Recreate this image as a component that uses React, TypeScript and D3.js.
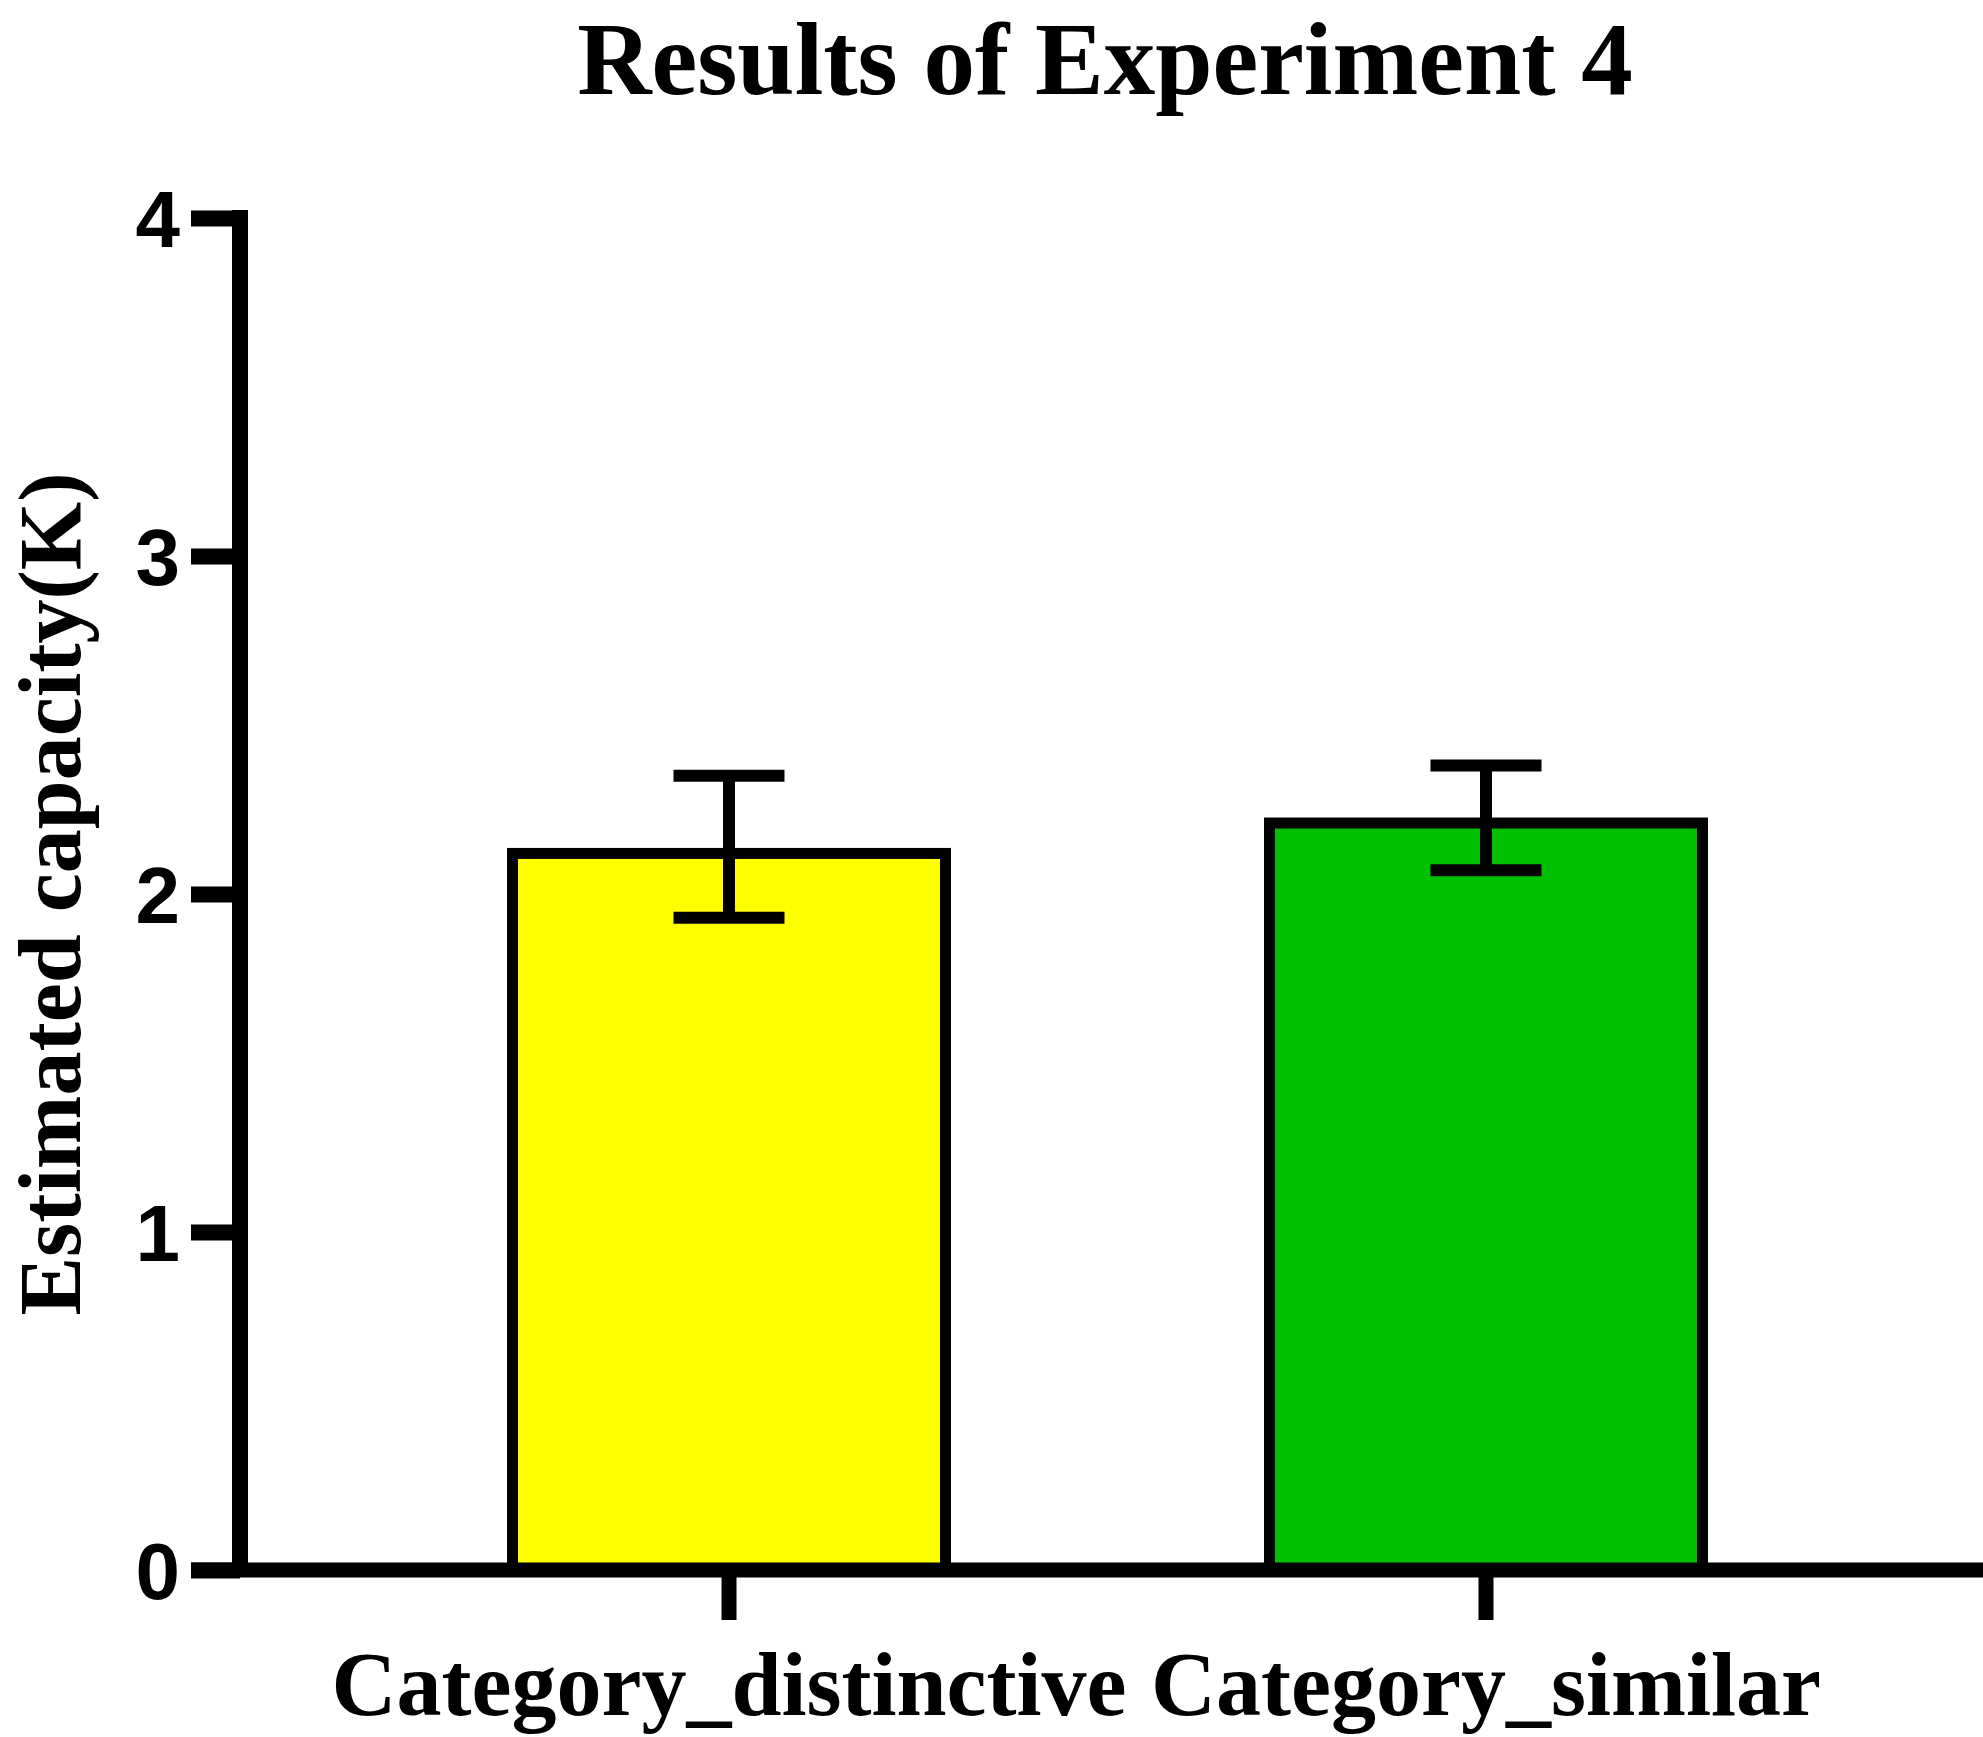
import { useEffect, useRef } from "react";
import * as d3 from "d3";

const categories = ["Category_distinctive", "Category_similar"];
const means = [2.12, 2.21];
const errLow = [1.93, 2.07];
const errHigh = [2.35, 2.38];
const barColors = ["#ffff00", "#00c000"];
const yTicks = [0, 1, 2, 3, 4];

const width = 1983;
const height = 1737;

const BarChart = () => {
    const svgRef = useRef<SVGSVGElement>(null);

    useEffect(() => {
        if (!svgRef.current) return;
        document.body.style.margin = "0";
        const svg = d3.select(svgRef.current);
        svg.selectAll("*").remove();

        const axisLeft = 240;
        const xScale = d3.scaleBand<string>()
            .domain(categories)
            .range([axisLeft, 1975])
            .paddingInner(0.428)
            .paddingOuter(0.36);

        const yScale = d3.scaleLinear()
            .domain([0, 4])
            .range([1570, 218]);

        const data = categories.map((c, i) => ({
            cat: c,
            mean: means[i],
            lo: errLow[i],
            hi: errHigh[i],
            color: barColors[i],
        }));

        // bars
        svg.append("g")
            .selectAll("rect")
            .data(data)
            .enter()
            .append("rect")
            .attr("x", d => xScale(d.cat)!)
            .attr("y", d => yScale(d.mean))
            .attr("width", xScale.bandwidth())
            .attr("height", d => yScale(0) - yScale(d.mean))
            .attr("fill", d => d.color)
            .attr("stroke", "#000")
            .attr("stroke-width", 11);

        // error bars
        const capHalf = 55.5;
        const err = svg.append("g").attr("stroke", "#000").attr("stroke-width", 12);
        data.forEach(d => {
            const cx = xScale(d.cat)! + xScale.bandwidth() / 2;
            err.append("line")
                .attr("x1", cx).attr("x2", cx)
                .attr("y1", yScale(d.lo)).attr("y2", yScale(d.hi));
            [d.lo, d.hi].forEach(v => {
                err.append("line")
                    .attr("x1", cx - capHalf).attr("x2", cx + capHalf)
                    .attr("y1", yScale(v)).attr("y2", yScale(v));
            });
        });

        // y axis
        const yAxis = svg.append("g").attr("transform", `translate(${axisLeft},0)`);
        yAxis.call(d3.axisLeft(yScale).tickValues(yTicks).tickSize(49).tickFormat(d3.format("d")));
        yAxis.select(".domain").remove();
        yAxis.selectAll(".tick line").attr("stroke", "#000").attr("stroke-width", 16);
        yAxis.selectAll(".tick text")
            .attr("x", -60)
            .attr("dy", "0.36em")
            .attr("fill", "#000")
            .style("font-family", "'Liberation Sans', Arial, sans-serif")
            .style("font-weight", "bold")
            .style("font-size", "80px");
        svg.append("line")
            .attr("x1", axisLeft).attr("x2", axisLeft)
            .attr("y1", yScale(4) - 8).attr("y2", yScale(0))
            .attr("stroke", "#000").attr("stroke-width", 16);

        // x axis
        const xAxis = svg.append("g").attr("transform", `translate(0,${yScale(0)})`);
        xAxis.call(d3.axisBottom(xScale).tickSize(50).tickSizeOuter(0));
        xAxis.select(".domain").remove();
        xAxis.selectAll(".tick line").attr("stroke", "#000").attr("stroke-width", 15);
        xAxis.selectAll(".tick text")
            .attr("y", 145)
            .attr("dy", 0)
            .attr("fill", "#000")
            .style("font-family", "'Liberation Serif', 'Times New Roman', serif")
            .style("font-weight", "bold")
            .style("font-size", "90px");
        svg.append("line")
            .attr("x1", axisLeft - 49).attr("x2", width)
            .attr("y1", yScale(0)).attr("y2", yScale(0))
            .attr("stroke", "#000").attr("stroke-width", 15);

        // titles
        svg.append("text")
            .attr("x", 1105)
            .attr("y", 94)
            .attr("text-anchor", "middle")
            .style("font-family", "'Liberation Serif', 'Times New Roman', serif")
            .style("font-weight", "bold")
            .style("font-size", "103px")
            .text("Results of Experiment 4");

        svg.append("text")
            .attr("transform", "rotate(-90)")
            .attr("x", -894)
            .attr("y", 80)
            .attr("text-anchor", "middle")
            .style("font-family", "'Liberation Serif', 'Times New Roman', serif")
            .style("font-weight", "bold")
            .style("font-size", "88px")
            .text("Estimated capacity(K)");
    }, []);

    return <svg ref={svgRef} width={width} height={height} style={{ display: "block", background: "#fff" }} />;
};

export default function App() {
    return <BarChart />;
}
